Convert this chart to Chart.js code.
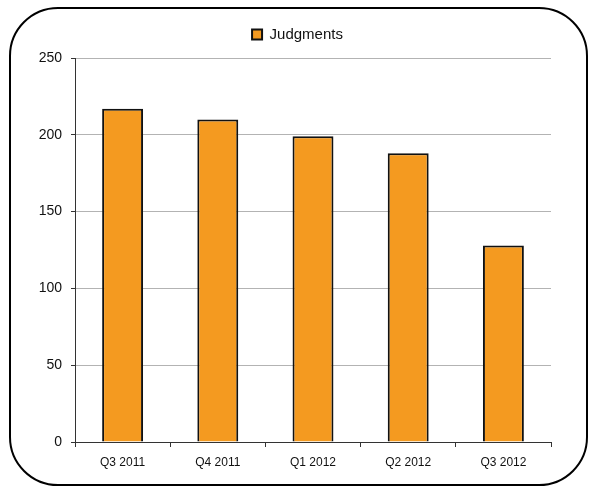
<!DOCTYPE html>
<html>
<head>
<meta charset="utf-8">
<script src="https://cdn.jsdelivr.net/npm/chart.js@4/dist/chart.umd.min.js"></script>
<style>
html,body{margin:0;padding:0;background:#fff;}
#wrap{position:relative;width:590px;height:488px;}
</style>
</head>
<body>
<div id="wrap"><canvas id="c" width="590" height="488"></canvas></div>
<script>
const categories = ["Q3 2011", "Q4 2011", "Q1 2012", "Q2 2012", "Q3 2012"];
const judgments = [217, 210, 199, 188, 128];
const yTicks = [0, 50, 100, 150, 200, 250];

const frame = {
  id: 'frame',
  beforeDraw(chart) {
    const ctx = chart.ctx;
    ctx.save();
    ctx.fillStyle = '#fff';
    ctx.fillRect(0, 0, chart.width, chart.height);
    ctx.beginPath();
    ctx.roundRect(10, 8, 577, 477, 48);
    ctx.lineWidth = 2;
    ctx.strokeStyle = '#000';
    ctx.stroke();
    ctx.restore();
  },
  afterLayout(chart) {
    const lg = chart.legend;
    if (lg) {
      lg.left += 22; lg.right += 22;
      lg.top -= 6; lg.bottom -= 6;
    }
  }
};

new Chart(document.getElementById('c'), {
  type: 'bar',
  data: {
    labels: categories,
    datasets: [{
      label: 'Judgments',
      data: judgments,
      backgroundColor: '#F49A20',
      borderColor: '#111',
      borderWidth: 2,
      borderSkipped: 'bottom',
      categoryPercentage: 1,
      barPercentage: 0.43
    }]
  },
  options: {
    responsive: false,
    animation: false,
    devicePixelRatio: 1,
    layout: { padding: { left: 0, right: 39, top: 8, bottom: 0 } },
    plugins: {
      legend: {
        position: 'top',
        labels: {
          boxWidth: 10, boxHeight: 10, padding: 25,
          color: '#111',
          font: { family: 'Liberation Sans', size: 15 }
        }
      },
      tooltip: { enabled: false }
    },
    scales: {
      x: {
        grid: { drawOnChartArea: false, drawTicks: true, tickLength: 5, color: '#333', offset: true },
        border: { color: '#333', width: 1 },
        ticks: { color: '#111', font: { family: 'Liberation Sans', size: 12 }, padding: 8 },
        afterFit(s) { s.height = 46; }
      },
      y: {
        min: 0, max: 250,
        afterBuildTicks(s) { s.ticks = yTicks.map(v => ({ value: v })); },
        grid: { color: '#b3b3b3', tickLength: 4, tickColor: '#333' },
        border: { color: '#333', width: 1 },
        ticks: { color: '#111', font: { family: 'Liberation Sans', size: 14 }, padding: 9 },
        afterFit(s) { s.width = 75; }
      }
    }
  },
  plugins: [frame]
});
</script>
</body>
</html>
